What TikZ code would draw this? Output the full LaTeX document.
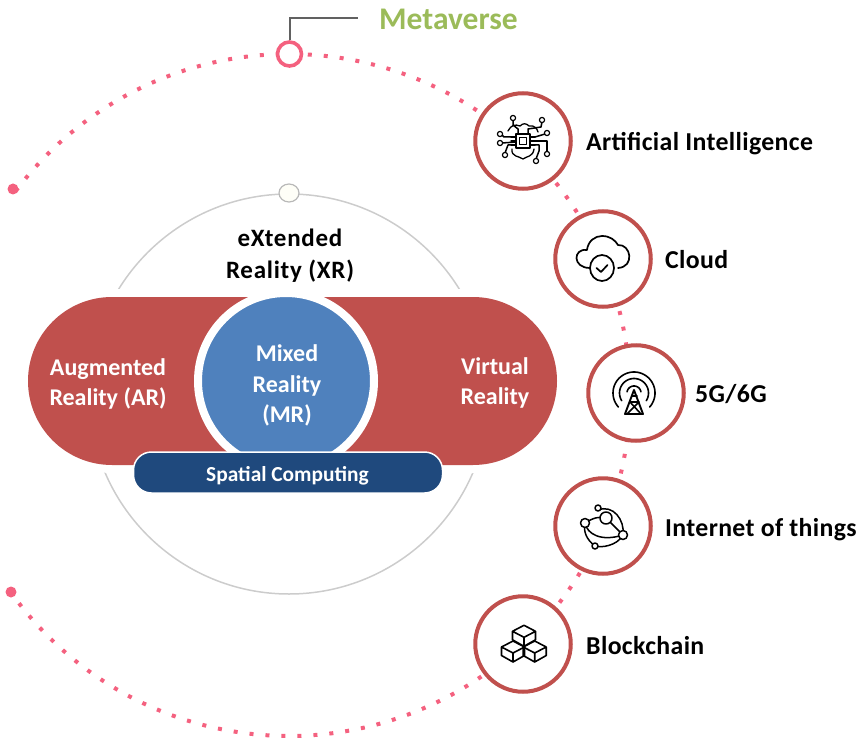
\documentclass[tikz,border=0pt]{standalone}
\usepackage{fontspec}
\usetikzlibrary{shapes.geometric}
\setmainfont{Carlito}
\newfontfamily\labfont[LetterSpace=1.4]{Carlito}
\newfontfamily\xrfont[LetterSpace=3]{Carlito}
\definecolor{rd}{HTML}{C0504D}
\definecolor{pk}{HTML}{F4617F}
\definecolor{bl}{HTML}{4F81BD}
\definecolor{nv}{HTML}{1F497D}
\definecolor{gn}{HTML}{9BBB59}
\tikzset{
 ring/.style={circle,draw=rd,line width=4pt,fill=white,minimum size=95.5pt,inner sep=0pt},
 lab/.style={anchor=base west,font=\labfont\fontsize{25.8}{28}\bfseries,text=black,inner sep=0pt},
 inn/.style={font=\fontsize{24}{30.5}\bfseries,text=white,align=center,inner sep=0pt},
 ic/.style={line width=1.5pt,draw=black,line cap=round,line join=round},
 dotline/.style={draw=pk,line width=4pt,dash pattern=on 4pt off 12pt},
}
\newcommand{\cubeicon}[2]{%
 \draw[shift={(#1,#2)},ic,line width=1.6pt] (0,-12) -- (-11.5,-6) -- (-11.5,2.5) -- (0,9) -- (11.5,2.5) -- (11.5,-6) -- cycle (-11.5,-6) -- (0,0) -- (11.5,-6) (0,0) -- (0,9);}
\begin{document}
\begin{tikzpicture}[x=1pt,y=-1pt]
\useasboundingbox (0,0) rectangle (866,743);
% metaverse arc
\draw[dotline] plot[domain=-143.3:144.7,samples=400] ({289+341*cos(\x)},{395+341*sin(\x)});
\node[circle,fill=pk,minimum size=11pt,inner sep=0pt] (dA) at (13,189) {};
\node[circle,fill=pk,minimum size=11pt,inner sep=0pt] (dB) at (11,592) {};
\coordinate (lineEnd) at (358,18);
\node[circle,draw=pk,line width=3.6pt,fill=white,minimum size=24pt,inner sep=0pt] (mv) at (289.5,54) {};
\draw[draw=black!62,line width=2pt] (mv.north) |- (lineEnd);
\node[anchor=base west,inner sep=0pt,text=gn,font=\fontsize{31.5}{34}\bfseries] (mvt) at (379,29.5) {Metaverse};
% XR
\node[circle,draw=black!20,line width=1.5pt,minimum size=400pt,inner sep=0pt] (xr) at (289,394) {};
\node[ellipse,draw=black!28,fill=black!8!yellow!3!white,line width=1.2pt,minimum width=20pt,minimum height=18pt,inner sep=0pt] (xd) at (289,193) {};
\node[align=center,inner sep=0pt,text=black,font=\xrfont\fontsize{25}{32}\bfseries] (xrt) at (290,256) {eXtended\\Reality (XR)};
\node[rounded corners=92pt,fill=white,minimum width=545pt,minimum height=184pt,inner sep=0pt] (halo) at (292.5,381) {};
\node[rounded corners=84pt,fill=rd,minimum width=529pt,minimum height=168pt,inner sep=0pt] (pill) at (292.5,381) {};
\begin{scope}
\clip (0,297) rectangle (866,465);
\node[circle,fill=bl,draw=white,line width=8pt,minimum size=176pt,inner sep=0pt] (mr) at (286,381) {};
\end{scope}
\node[inn] (mrt) at (287,385.5) {Mixed\\Reality\\(MR)};
\node[inn] (art) at (108,384) {Augmented\\Reality (AR)};
\node[inn] (vrt) at (495,383) {Virtual\\Reality};
\node[rounded corners=18pt,fill=nv,draw=white,line width=1.5pt,minimum width=309pt,minimum height=41pt,inner sep=0pt] (sc) at (288,472.5) {};
\node[inn,font=\fontsize{21.4}{26}\bfseries] (sct) at (287.5,475.5) {Spatial Computing};
% rings
\node[ring] (ai) at (523,141) {};
\node[ring] (cl) at (603,259) {};
\node[ring] (g5) at (636,393) {};
\node[ring] (io) at (603,526) {};
\node[ring] (bc) at (523,644) {};
\node[lab] (tai) at (586,151) {Artificial Intelligence};
\node[lab] (tcl) at (665,268) {Cloud};
\node[lab] (tg5) at (695,402) {5G/6G};
\node[lab] (tio) at (665,536) {Internet of things};
\node[lab] (tbc) at (586,654) {Blockchain};
% AI icon
\begin{scope}[shift={(ai.center)},ic]
\draw[line width=1.3pt] (-15,-10) .. controls (-12,-16) and (-8,-17) .. (-3,-15) .. controls (0,-18) and (3,-18) .. (6,-15) .. controls (12,-16) and (14,-12) .. (15,-9);
\draw[line width=1.3pt] (-11,8) .. controls (-12,16) and (-4,15) .. (0,18) .. controls (4,15) and (10,16) .. (11,8);
\draw[line width=1.8pt] (-7,-7) rectangle (7,7);
\draw[line width=1.5pt] (-3.5,-3.5) rectangle (3.5,3.5);
\foreach \y in {-4,0,4} {\draw (-7,\y) -- (-12,\y); \draw (7,\y) -- (12,\y);}
\draw (-12,-4) -- (-19,-4) -- (-21,-6);
\draw (-7,1) -- (-21,2);
\draw (-12,4) -- (-15,4) -- (-18,12);
\draw (12,-4) -- (22,-7);
\draw (12,0) -- (24,0) -- (24,11);
\draw (12,4) -- (16,4) -- (16,10) -- (13,18);
\draw (-5,-7) -- (-5,-12) -- (-10,-16) -- (-10,-21);
\draw (5,-7) -- (5,-12) -- (18,-14) -- (19,-19);
\foreach \p/\q in {-10/-23,19/-21,-23/-7,24/-8,-23/2,-18/14,24/13,13/20}
  \draw[fill=white,line width=1.2pt] (\p,\q) circle (2.6);
\end{scope}
% cloud icon
\begin{scope}[shift={(cl.center)},ic,line width=1.7pt]
\draw (-13,9) .. controls (-31,9) and (-30,-11) .. (-16,-9) .. controls (-15,-18) and (-8,-23) .. (-1,-23) .. controls (7,-23) and (12,-19) .. (15,-14) .. controls (28,-15) and (32,8) .. (15,9);
\draw (-1,9) circle[x radius=12,y radius=13];
\draw (-6.5,9) -- (-2,13) -- (4.5,6);
\end{scope}
% 5G icon
\begin{scope}[shift={(g5.center)},ic,line width=1.6pt]
\foreach \r/\a in {21/48,14.5/58,7/100}
  \draw plot[domain=90+\a:450-\a,samples=50] ({-2+\r*cos(\x)},{\r*sin(\x)});
\draw[line width=1.9pt] (-2,-3) -- (-11,21) -- (7,21) -- cycle;
\draw (-6,9) -- (3,9) -- (-9,21) (-6,9) -- (5,21) (-4,3) -- (1,3);
\end{scope}
% IoT icon
\begin{scope}[shift={(io.center)},ic,line width=1.5pt]
\draw (-5,-16) .. controls (10,-22) and (22,-6) .. (20,9) .. controls (14,20) and (-2,22) .. (-8,20) .. controls (-16,14) and (-20,6) .. (-18,-3);
\draw (-18,-3) .. controls (-16,8) and (-2,16) .. (20,9);
\draw (-18,-3) .. controls (-10,-8) and (-4,-10) .. (3,-8) -- (20,9);
\foreach \p/\q/\r in {-18/-3/4.5,-5/-18/3,3/-8/6,20/9/4.5,-8/20/3}
  \draw[fill=white] (\p,\q) circle (\r);
\end{scope}
% Blockchain icon
\begin{scope}[shift={(bc.center)}]
\cubeicon{1}{-6.7}
\cubeicon{-10}{9}
\cubeicon{11.7}{9}
\end{scope}
\end{tikzpicture}
\end{document}
